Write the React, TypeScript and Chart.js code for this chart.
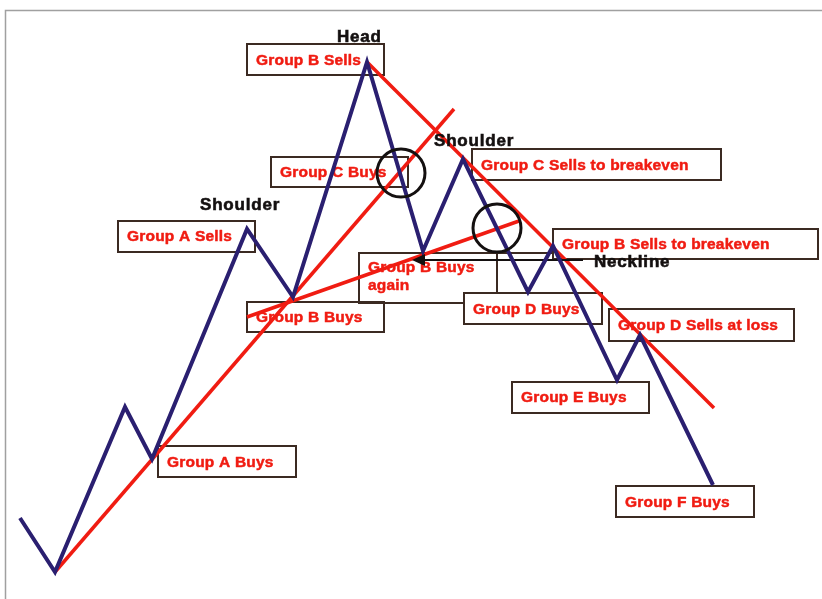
import React, { useEffect, useRef } from "react";
import { Chart, registerables } from "chart.js";

Chart.register(...registerables);

// Price path (time units, price units)
const times = [2.0, 5.5, 12.5, 15.2, 24.7, 29.3, 36.7, 42.3, 46.3, 52.8, 55.3, 61.7, 64.0, 71.3];
const prices = [8.1, 2.7, 19.2, 14.0, 37.0, 30.2, 53.7, 34.8, 44.0, 30.7, 35.3, 21.9, 26.4, 11.4];

// Trend lines [x0, x1], [y0, y1]
const upTrendX = [5.5, 45.4];
const upTrendY = [2.7, 49.0];
const downTrendX = [36.7, 71.4];
const downTrendY = [53.7, 19.1];
const secondTrendX = [24.7, 51.9];
const secondTrendY = [28.2, 37.8];
const necklineX = [41.5, 58.3];
const necklineY = [33.9, 33.9];

// Boxed group labels
const boxTexts = [
  "Group B Sells",
  "Group C Buys",
  "Group A Sells",
  "Group C Sells to breakeven",
  "Group B Sells to breakeven",
  "Group B Buys",
  "Group A Buys",
  "Group D Buys",
  "Group D Sells at loss",
  "Group E Buys",
  "Group F Buys",
];
const boxX1 = [24.7, 27.1, 11.8, 47.2, 55.3, 24.7, 15.8, 46.4, 60.9, 51.2, 61.6];
const boxX2 = [38.4, 40.8, 25.5, 72.1, 81.8, 38.4, 29.6, 60.2, 79.4, 64.9, 75.4];
const boxTop = [55.5, 44.2, 37.8, 45.0, 37.0, 29.7, 15.3, 30.6, 29.0, 21.7, 11.3];
const boxBottom = [52.4, 41.2, 34.7, 41.9, 34.0, 26.7, 12.2, 27.5, 25.8, 18.6, 8.2];
const textBase = [53.4, 42.2, 35.8, 42.9, 35.0, 27.7, 13.2, 28.5, 26.9, 19.7, 9.2];

// Black pattern labels
const patternTexts = ["Head", "Shoulder", "Shoulder", "Neckline"];
const patternX = [33.7, 20.0, 43.4, 59.4];
const patternY = [55.7, 38.9, 45.3, 33.2];

// Circles (centre in chart units)
const circleX = [40.1, 49.7];
const circleY = [42.6, 37.1];

const RED = "#f01c12";
const NAVY = "#2a1f70";
const BOX = "#3b2a22";

const overlayPlugin = {
  id: "overlay",
  beforeDatasetsDraw(chart: any) {
    const { ctx, scales } = chart;
    const X = (v: number) => scales.x.getPixelForValue(v);
    const Y = (v: number) => scales.y.getPixelForValue(v);
    ctx.save();
    // frame
    ctx.strokeStyle = "#a0a0a0";
    ctx.lineWidth = 1.5;
    ctx.beginPath();
    ctx.moveTo(5.5, 599);
    ctx.lineTo(5.5, 10.5);
    ctx.lineTo(822, 10.5);
    ctx.stroke();

    // boxes
    ctx.strokeStyle = BOX;
    ctx.lineWidth = 2;
    for (let i = 0; i < boxTexts.length; i++) {
      const x1 = X(boxX1[i]);
      const x2 = X(boxX2[i]);
      const y1 = Y(boxTop[i]);
      const y2 = Y(boxBottom[i]);
      ctx.strokeRect(x1, y1, x2 - x1, y2 - y1);
    }
    // "Group B Buys again" box outline
    ctx.beginPath();
    ctx.moveTo(X(55.3), Y(34.6));
    ctx.lineTo(X(35.9), Y(34.6));
    ctx.lineTo(X(35.9), Y(29.6));
    ctx.lineTo(X(46.4), Y(29.6));
    ctx.moveTo(X(49.7), Y(34.6));
    ctx.lineTo(X(49.7), Y(30.6));
    ctx.stroke();

    // red texts
    ctx.fillStyle = RED;
    ctx.strokeStyle = RED;
    ctx.lineWidth = 0.5;
    ctx.lineJoin = "round";
    ctx.font = 'bold 15.5px "Liberation Sans", Arial, sans-serif';
    (ctx as any).letterSpacing = "0.2px";
    ctx.textBaseline = "alphabetic";
    ctx.textAlign = "left";
    const put = (t: string, x: number, y: number) => {
      ctx.fillText(t, x, y);
      ctx.strokeText(t, x, y);
    };
    for (let i = 0; i < boxTexts.length; i++) {
      put(boxTexts[i], X(boxX1[i]) + 9, Y(textBase[i]));
    }
    put("Group B Buys", X(36.8), Y(32.7));
    put("again", X(36.8), Y(30.9));
    ctx.restore();
  },
  afterDatasetsDraw(chart: any) {
    const { ctx, scales } = chart;
    const X = (v: number) => scales.x.getPixelForValue(v);
    const Y = (v: number) => scales.y.getPixelForValue(v);
    ctx.save();
    // circles
    ctx.strokeStyle = "#141010";
    ctx.lineWidth = 3;
    for (let i = 0; i < circleX.length; i++) {
      ctx.beginPath();
      ctx.arc(X(circleX[i]), Y(circleY[i]), 24, 0, Math.PI * 2);
      ctx.stroke();
    }
    // neckline arrowhead
    const ax = X(necklineX[0]);
    const ay = Y(necklineY[0]);
    ctx.fillStyle = "#141010";
    ctx.beginPath();
    ctx.moveTo(ax - 3, ay);
    ctx.lineTo(ax + 10, ay - 6);
    ctx.lineTo(ax + 10, ay + 6);
    ctx.closePath();
    ctx.fill();
    // black labels
    ctx.fillStyle = "#141010";
    ctx.strokeStyle = "#141010";
    ctx.lineWidth = 0.6;
    ctx.font = 'bold 17px "Liberation Sans", Arial, sans-serif';
    (ctx as any).letterSpacing = "0.8px";
    ctx.textAlign = "left";
    ctx.textBaseline = "alphabetic";
    for (let i = 0; i < patternTexts.length; i++) {
      ctx.fillText(patternTexts[i], X(patternX[i]), Y(patternY[i]));
      ctx.strokeText(patternTexts[i], X(patternX[i]), Y(patternY[i]));
    }
    ctx.restore();
  },
};

function toPoints(xs: number[], ys: number[]) {
  return xs.map((x, i) => ({ x, y: ys[i] }));
}

export default function App() {
  const ref = useRef<HTMLCanvasElement | null>(null);
  useEffect(() => {
    if (!ref.current) return;
    const chart = new Chart(ref.current, {
      type: "line",
      data: {
        datasets: [
          {
            data: toPoints(times, prices),
            borderColor: NAVY,
            borderWidth: 4,
            pointRadius: 0,
            tension: 0,
            borderJoinStyle: "miter",
          },
          {
            data: toPoints(necklineX, necklineY),
            borderColor: "#141010",
            borderWidth: 2,
            pointRadius: 0,
          },
          {
            data: toPoints(upTrendX, upTrendY),
            borderColor: RED,
            borderWidth: 3.5,
            pointRadius: 0,
          },
          {
            data: toPoints(downTrendX, downTrendY),
            borderColor: RED,
            borderWidth: 3.5,
            pointRadius: 0,
          },
          {
            data: toPoints(secondTrendX, secondTrendY),
            borderColor: RED,
            borderWidth: 3.5,
            pointRadius: 0,
          },
        ],
      },
      options: {
        animation: false,
        responsive: false,
        devicePixelRatio: 1,
        layout: { padding: 0 },
        plugins: { legend: { display: false }, tooltip: { enabled: false } },
        events: [],
        scales: {
          x: { type: "linear", min: 0, max: 82.2, display: false },
          y: { type: "linear", min: 0, max: 59.9, display: false },
        },
        elements: { line: { fill: false } },
        datasets: { line: { clip: false } as any },
      } as any,
      plugins: [overlayPlugin],
    });
    return () => chart.destroy();
  }, []);
  return (
    <div style={{ position: "absolute", left: 0, top: 0, width: 822, height: 599, background: "#fff" }}>
      <canvas ref={ref} width={822} height={599} style={{ display: "block" }} />
    </div>
  );
}
